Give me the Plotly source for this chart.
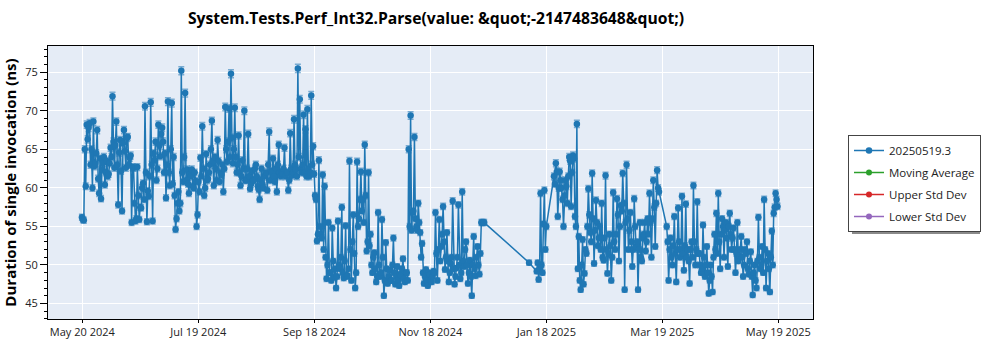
import plotly.graph_objects as go

# ---------------- data ----------------
dates_2024 = [
    "2024-05-20", "2024-05-21", "2024-05-22", "2024-05-23", "2024-05-24", "2024-05-25",
    "2024-05-26", "2024-05-27", "2024-05-28", "2024-05-29", "2024-05-30", "2024-05-31",
    "2024-06-01", "2024-06-02", "2024-06-03", "2024-06-04", "2024-06-05", "2024-06-06",
    "2024-06-07", "2024-06-08", "2024-06-09", "2024-06-10", "2024-06-11", "2024-06-12",
    "2024-06-13", "2024-06-14", "2024-06-15", "2024-06-16", "2024-06-17", "2024-06-18",
    "2024-06-19", "2024-06-20", "2024-06-21", "2024-06-22", "2024-06-23", "2024-06-24",
    "2024-06-25", "2024-06-26", "2024-06-27", "2024-06-28", "2024-06-29", "2024-06-30",
    "2024-07-01", "2024-07-02", "2024-07-03", "2024-07-04", "2024-07-05", "2024-07-06",
    "2024-07-07", "2024-07-08", "2024-07-09", "2024-07-10", "2024-07-11", "2024-07-12",
    "2024-07-13", "2024-07-14", "2024-07-15", "2024-07-16", "2024-07-17", "2024-07-18",
    "2024-07-19", "2024-07-20", "2024-07-21", "2024-07-22", "2024-07-23", "2024-07-24",
    "2024-07-25", "2024-07-26", "2024-07-27", "2024-07-28", "2024-07-29", "2024-07-30",
    "2024-07-31",
    "2024-08-01", "2024-08-02", "2024-08-03", "2024-08-04", "2024-08-05", "2024-08-06",
    "2024-08-07", "2024-08-08", "2024-08-09", "2024-08-10", "2024-08-11", "2024-08-12",
    "2024-08-13", "2024-08-14", "2024-08-15", "2024-08-16", "2024-08-17", "2024-08-18",
    "2024-08-19", "2024-08-20", "2024-08-21", "2024-08-22", "2024-08-23", "2024-08-24",
    "2024-08-25", "2024-08-26", "2024-08-27", "2024-08-28", "2024-08-29", "2024-08-30",
    "2024-08-31",
    "2024-09-01", "2024-09-02", "2024-09-03", "2024-09-04", "2024-09-05", "2024-09-06",
    "2024-09-07", "2024-09-08", "2024-09-09", "2024-09-10", "2024-09-11", "2024-09-12",
    "2024-09-13", "2024-09-14", "2024-09-15", "2024-09-16", "2024-09-17", "2024-09-18",
    "2024-09-19", "2024-09-20", "2024-09-21", "2024-09-22", "2024-09-23", "2024-09-24",
    "2024-09-25", "2024-09-26", "2024-09-27", "2024-09-28", "2024-09-29", "2024-09-30",
    "2024-10-01", "2024-10-02", "2024-10-03", "2024-10-04", "2024-10-05", "2024-10-06",
    "2024-10-07", "2024-10-08", "2024-10-09", "2024-10-10", "2024-10-11", "2024-10-12",
    "2024-10-13", "2024-10-14", "2024-10-15", "2024-10-16", "2024-10-17", "2024-10-18",
    "2024-10-19", "2024-10-20", "2024-10-21", "2024-10-22", "2024-10-23", "2024-10-24",
    "2024-10-25", "2024-10-26", "2024-10-27", "2024-10-28", "2024-10-29", "2024-10-30",
    "2024-10-31",
    "2024-11-01", "2024-11-02", "2024-11-03", "2024-11-04", "2024-11-05", "2024-11-06",
    "2024-11-07", "2024-11-08", "2024-11-09", "2024-11-10", "2024-11-11", "2024-11-12",
    "2024-11-13", "2024-11-14", "2024-11-15", "2024-11-16", "2024-11-17", "2024-11-18",
    "2024-11-19", "2024-11-20", "2024-11-21", "2024-11-22", "2024-11-23", "2024-11-24",
    "2024-11-25", "2024-11-26", "2024-11-27", "2024-11-28", "2024-11-29", "2024-11-30",
    "2024-12-01", "2024-12-02", "2024-12-03", "2024-12-04", "2024-12-05", "2024-12-06",
    "2024-12-07", "2024-12-08", "2024-12-09", "2024-12-10", "2024-12-11", "2024-12-12",
    "2024-12-13", "2024-12-14", "2024-12-15", "2024-12-16",
]

# first run of each day (ns)
values_2024_am = [
    # May 20-31
    56.2, 55.8, 60.2, 66.3, 68.4, 65.0, 68.6, 63.2, 67.5, 59.3, 58.6, 63.2,
    # June
    60.4, 63.5, 61.8, 65.2, 71.9, 62.6, 68.6, 57.8, 66.2, 57.0, 67.5, 62.6, 66.6, 63.9, 55.5,
    62.6, 55.7, 62.7, 55.9, 57.4, 60.6, 70.6, 55.6, 58.9, 71.1, 55.7, 63.6, 61.0, 68.2, 64.1,
    # July
    67.8, 62.0, 58.7, 71.2, 60.3, 71.0, 64.0, 54.6, 58.0, 57.0, 75.2, 60.8, 72.3, 62.4, 59.3,
    61.5, 60.2, 62.0, 55.0, 60.8, 63.9, 68.0, 59.0, 64.4, 61.2, 63.0, 68.7, 60.3, 62.5, 66.2, 60.8,
    # August
    61.7, 59.5, 70.5, 63.4, 70.3, 74.8, 63.2, 70.4, 62.0, 66.8, 60.3, 63.6, 70.0, 61.0, 67.0,
    59.9, 62.2, 61.0, 63.0, 60.2, 58.5, 62.5, 60.0, 61.8, 59.7, 67.3, 62.2, 63.8, 60.8, 59.5, 65.6,
    # September
    61.5, 61.8, 65.2, 62.0, 59.7, 67.1, 61.6, 68.9, 62.4, 75.5, 71.5, 62.0, 69.5, 67.6, 70.2,
    61.5, 72.0, 65.4, 59.0, 53.1, 63.6, 54.0, 61.7, 60.2, 48.2, 55.5, 49.0, 54.8, 48.4, 47.0,
    # October
    55.7, 49.5, 57.5, 48.3, 55.1, 48.6, 63.5, 48.0, 56.5, 47.0, 63.4, 56.0, 62.1, 58.5, 65.6,
    51.8, 62.0, 54.0, 49.0, 51.6, 47.8, 56.8, 48.5, 55.9, 46.0, 52.9, 47.6, 49.3, 48.0, 53.5, 47.5,
    # November
    49.8, 47.3, 48.6, 50.8, 47.8, 49.0, 65.0, 69.4, 56.8, 66.6, 55.0, 58.0, 54.2, 52.8, 47.6,
    49.4, 47.3, 48.8, 47.8, 49.2, 56.8, 48.0, 55.9, 52.4, 57.6, 49.4, 54.2, 47.8, 50.2, 58.3,
    # December 1-16
    47.5, 49.6, 57.8, 48.2, 59.5, 49.8, 53.0, 47.6, 50.6, 46.0, 53.7, 48.6, 52.4, 48.8, 55.5, 55.5,
]

# second run of each day (ns)
values_2024_pm = [
    # May 20-31
    55.9, 65.0, 68.2, 67.8, 63.0, 60.0, 62.8, 64.5, 61.2, 63.8, 62.4, 64.0,
    # June
    62.0, 61.5, 63.2, 64.0, 66.0, 65.5, 63.0, 64.6, 62.2, 65.8, 64.8, 66.5, 63.0, 64.2, 62.7,
    58.0, 56.0, 59.0, 57.5, 60.0, 58.5, 62.0, 59.6, 61.5, 63.0, 64.5, 66.0, 62.5, 65.5, 67.0,
    # July
    66.0, 64.5, 63.0, 62.0, 65.0, 60.5, 59.0, 56.0, 59.5, 58.0, 62.0, 64.0, 61.0, 60.5, 61.8,
    62.4, 60.0, 60.9, 56.5, 59.5, 61.5, 62.5, 60.0, 61.0, 62.0, 65.0, 63.5, 64.0, 61.0, 63.5, 62.0,
    # August
    63.0, 62.5, 65.0, 66.0, 64.0, 66.5, 65.0, 64.0, 63.0, 62.0, 61.5, 62.5, 61.0, 62.5, 61.5,
    60.5, 61.0, 62.5, 61.5, 59.8, 61.0, 60.5, 61.5, 62.0, 63.0, 61.0, 62.0, 61.5, 62.5, 63.0, 62.0,
    # September
    62.0, 62.5, 61.5, 62.0, 61.0, 62.5, 62.0, 63.0, 61.5, 64.0, 62.5, 63.0, 62.0, 61.5, 62.5,
    62.0, 63.0, 61.8, 58.5, 54.0, 55.0, 53.5, 52.0, 51.0, 50.0, 49.0, 48.0, 50.5, 49.5, 48.5,
    # October
    50.0, 51.0, 49.0, 50.5, 48.5, 49.5, 52.0, 53.0, 51.5, 49.0, 55.0, 58.5, 57.0, 55.5, 59.0,
    53.0, 52.5, 50.0, 51.0, 49.5, 48.5, 50.0, 49.0, 51.0, 48.0, 49.5, 48.5, 48.0, 50.0, 49.0, 48.5,
    # November
    48.0, 48.8, 49.5, 48.2, 49.0, 48.0, 55.0, 54.5, 57.0, 56.0, 54.5, 55.5, 51.0, 49.0, 48.5,
    48.0, 49.0, 48.0, 48.5, 49.0, 51.5, 52.0, 50.5, 54.0, 53.0, 51.0, 50.5, 49.0, 51.0, 49.5,
    # December 1-16
    48.5, 51.0, 50.0, 49.0, 50.5, 52.0, 50.0, 49.0, 48.5, 50.0, 49.5, 51.0, 50.0, 51.5, 55.5, 55.5,
]

dates_2025 = [
    "2025-01-09",
    "2025-01-13", "2025-01-14", "2025-01-15", "2025-01-16", "2025-01-17", "2025-01-18",
    "2025-01-22", "2025-01-23", "2025-01-24", "2025-01-25", "2025-01-26", "2025-01-27",
    "2025-01-28", "2025-01-29", "2025-01-30", "2025-01-31",
    "2025-02-01", "2025-02-02", "2025-02-03", "2025-02-04", "2025-02-05", "2025-02-06",
    "2025-02-07", "2025-02-08", "2025-02-09", "2025-02-10", "2025-02-11", "2025-02-12",
    "2025-02-13", "2025-02-14", "2025-02-15", "2025-02-16", "2025-02-17", "2025-02-18",
    "2025-02-19", "2025-02-20", "2025-02-21", "2025-02-22", "2025-02-23", "2025-02-24",
    "2025-02-25", "2025-02-26", "2025-02-27", "2025-02-28",
    "2025-03-01", "2025-03-02", "2025-03-03", "2025-03-04", "2025-03-05", "2025-03-06",
    "2025-03-07", "2025-03-08", "2025-03-09", "2025-03-10", "2025-03-11", "2025-03-12",
    "2025-03-13", "2025-03-14", "2025-03-15", "2025-03-16", "2025-03-17", "2025-03-18",
    "2025-03-22", "2025-03-23", "2025-03-24", "2025-03-25", "2025-03-26", "2025-03-27",
    "2025-03-28", "2025-03-29", "2025-03-30", "2025-03-31",
    "2025-04-01", "2025-04-02", "2025-04-03", "2025-04-04", "2025-04-05", "2025-04-06",
    "2025-04-07", "2025-04-08", "2025-04-09", "2025-04-10", "2025-04-11", "2025-04-12",
    "2025-04-13", "2025-04-14", "2025-04-15", "2025-04-16", "2025-04-17", "2025-04-18",
    "2025-04-19", "2025-04-20", "2025-04-21", "2025-04-22", "2025-04-23", "2025-04-24",
    "2025-04-25", "2025-04-26", "2025-04-27", "2025-04-28", "2025-04-29", "2025-04-30",
    "2025-05-01", "2025-05-02", "2025-05-03", "2025-05-04", "2025-05-05", "2025-05-06",
    "2025-05-07", "2025-05-08", "2025-05-09", "2025-05-10", "2025-05-11", "2025-05-12",
    "2025-05-13", "2025-05-14", "2025-05-15", "2025-05-16", "2025-05-17", "2025-05-18",
    "2025-05-19",
]

values_2025_am = [
    # January
    50.3,
    49.2, 48.1, 59.3, 49.0, 59.7, 55.0,
    61.5, 63.2, 56.3, 62.1, 60.0, 55.0, 61.0, 58.0, 64.0, 57.6,
    # February
    64.2, 56.3, 68.3, 53.7, 46.8, 53.3, 48.9, 51.5, 59.9, 54.2, 61.9, 50.2, 58.4, 52.5,
    55.0, 58.0, 50.6, 61.6, 48.9, 54.0, 48.0, 59.4, 52.0, 58.6, 50.5, 57.7, 61.9, 46.8,
    # March 1-18
    63.0, 52.0, 56.8, 49.8, 58.6, 52.4, 46.8, 55.5, 50.5, 54.0, 51.8, 56.0, 59.3, 51.0,
    61.0, 52.4, 62.3, 59.5,
    # March 22-31
    55.0, 48.0, 53.5, 50.0, 56.3, 47.8, 57.4, 51.0, 58.9, 49.3,
    # April
    57.9, 52.0, 47.6, 53.0, 60.3, 50.0, 58.2, 51.5, 49.0, 55.2, 48.5, 52.4, 46.3, 50.0, 46.5,
    54.0, 56.7, 59.3, 49.5, 56.0, 51.0, 55.5, 49.8, 56.7, 52.0, 54.8, 49.0, 55.5, 51.2, 53.7,
    # May 1-19
    48.5, 52.0, 53.0, 48.8, 51.7, 46.1, 50.0, 47.0, 56.2, 49.5, 52.4, 58.5, 47.0, 51.5,
    46.5, 54.4, 56.7, 59.3, 57.6,
]

values_2025_pm = [
    # January
    None,
    50.3, 49.5, 50.0, 55.3, 52.0, None,
    60.5, 62.1, 60.0, 61.0, 58.5, 59.0, 60.2, 61.5, 63.5, 62.0,
    # February
    63.8, 55.0, 49.5, 48.0, 50.0, 47.5, 52.0, 55.0, 56.5, 53.0, 56.0, 54.5, 55.5, 53.5,
    52.0, 51.0, 53.5, 52.0, 51.5, 52.5, 51.0, 53.0, 54.0, 56.5, 55.0, 57.0, 58.0, 55.5,
    # March 1-18
    56.0, 54.5, 53.0, 52.0, 55.0, 53.0, 52.0, 51.0, 53.5, 55.5, 53.0, 54.0, 55.5, 56.0,
    57.5, 58.0, 60.0, None,
    # March 22-31
    53.0, 52.0, 51.0, 52.5, 51.5, 52.0, 53.0, 52.0, 51.5, 52.5,
    # April
    51.0, 50.5, 52.0, 51.0, 53.0, 52.0, 51.5, 50.0, 49.5, 51.0, 50.0, 49.0, 48.0, 48.5, 51.0,
    52.0, 51.5, 53.0, 54.0, 55.0, 54.5, 53.5, 55.0, 54.0, 53.5, 52.0, 51.5, 50.5, 52.0, 51.0,
    # May 1-19
    50.0, 51.5, 49.5, 50.5, 48.5, 49.0, 48.0, 50.5, 51.0, 50.0, 49.0, 52.0, 50.5, 49.5,
    51.0, 50.0, 57.5, 58.5, None,
]

assert len(dates_2024) == len(values_2024_am) == len(values_2024_pm)
assert len(dates_2025) == len(values_2025_am) == len(values_2025_pm)

series_name = "20250519.3"
extra_series = ["Moving Average", "Upper Std Dev", "Lower Std Dev"]
extra_colors = ["#2ca02c", "#d62728", "#9467bd"]

tick_vals = [
    "2024-05-20 04:48", "2024-07-19 21:36", "2024-09-18 14:24", "2024-11-18 07:12",
    "2025-01-18 00:00", "2025-03-19 16:48", "2025-05-19 09:36",
]
tick_text = [
    "May 20 2024", "Jul 19 2024", "Sep 18 2024", "Nov 18 2024",
    "Jan 18 2025", "Mar 19 2025", "May 19 2025",
]

title_text = "System.Tests.Perf_Int32.Parse(value: &amp;quot;-2147483648&amp;quot;)"
y_title = "Duration of single invocation (ns)"

FONT = "Open Sans"
BLUE = "#1f77b4"

# two runs per day: morning and evening
x_all, y_all = [], []
for d, am, pm in zip(dates_2024 + dates_2025,
                     values_2024_am + values_2025_am,
                     values_2024_pm + values_2025_pm):
    x_all += [d + " 00:00", d + " 12:00"]
    y_all += [am, pm]

# plot-area geometry (px) used for legend / shadow placement
W, H = 1000, 350
ML, MR, MT, MB = 48, 187, 46, 31
PW, PH = W - ML - MR, H - MT - MB


def px_x(p):
    return (p - ML) / PW


def px_y(p):
    return (H - MB - p) / PH


# ---------------- figure ----------------
fig = go.Figure()
fig.add_trace(go.Scatter(
    x=x_all, y=y_all,
    mode="lines+markers",
    connectgaps=True,
    name=series_name,
    line=dict(color=BLUE, width=1.5),
    marker=dict(color=BLUE, size=6.5),
    error_y=dict(type="percent", value=0.7, color="rgba(31,119,180,0.55)",
                 thickness=1.5, width=3),
    legendgroup="a",
))
for nm, col, grp in zip(extra_series, extra_colors, ["b", "c", "d"]):
    fig.add_trace(go.Scatter(
        x=[None], y=[None], mode="lines+markers", name=nm,
        line=dict(color=col, width=1.5), marker=dict(color=col, size=6),
        legendgroup=grp, showlegend=True,
    ))

# legend drop shadow
fig.add_shape(type="rect", xref="paper", yref="paper",
              x0=px_x(852), x1=px_x(980), y0=px_y(234), y1=px_y(139),
              fillcolor="#8a8a8a", line=dict(width=0), layer="above")

fig.update_layout(
    width=W, height=H, autosize=False,
    margin=dict(l=ML, r=MR, t=MT, b=MB, pad=0, autoexpand=False),
    paper_bgcolor="white",
    plot_bgcolor="#E5ECF6",
    font=dict(family=FONT, size=11, color="#222"),
    title=dict(text=title_text, x=px_x(436), xref="paper", xanchor="center",
               y=1 - 18.5 / H, yref="container", yanchor="middle",
               font=dict(family=FONT, size=15.7, color="black", weight="bold")),
    showlegend=True,
    legend=dict(x=px_x(848), xanchor="left", y=px_y(135), yanchor="top",
                bgcolor="white", bordercolor="#444", borderwidth=1,
                font=dict(family=FONT, size=11.5, color="#222"),
                tracegroupgap=3, traceorder="grouped"),
)

fig.update_xaxes(
    type="date", automargin=False,
    range=["2024-05-02 06:00", "2025-06-06 13:30"],
    tickmode="array", tickvals=tick_vals, ticktext=tick_text,
    ticks="outside", ticklen=3, tickcolor="black",
    showline=True, linecolor="black", linewidth=1, mirror=True,
    showgrid=True, gridcolor="white", gridwidth=1,
    zeroline=False,
    tickfont=dict(family=FONT, size=11, color="#222"),
)
fig.update_yaxes(
    automargin=False,
    range=[42.99, 78.41],
    tickmode="linear", tick0=45, dtick=5,
    ticks="outside", ticklen=7, tickcolor="black",
    minor=dict(ticks="outside", ticklen=3, dtick=1, tick0=45, tickcolor="black", showgrid=False),
    showline=True, linecolor="black", linewidth=1, mirror=True,
    showgrid=True, gridcolor="white", gridwidth=1,
    zeroline=False,
    tickfont=dict(family=FONT, size=11, color="#222"),
    title=dict(text=y_title, standoff=6,
               font=dict(family=FONT, size=15, color="black", weight="bold")),
)

fig.write_html("out.html")
